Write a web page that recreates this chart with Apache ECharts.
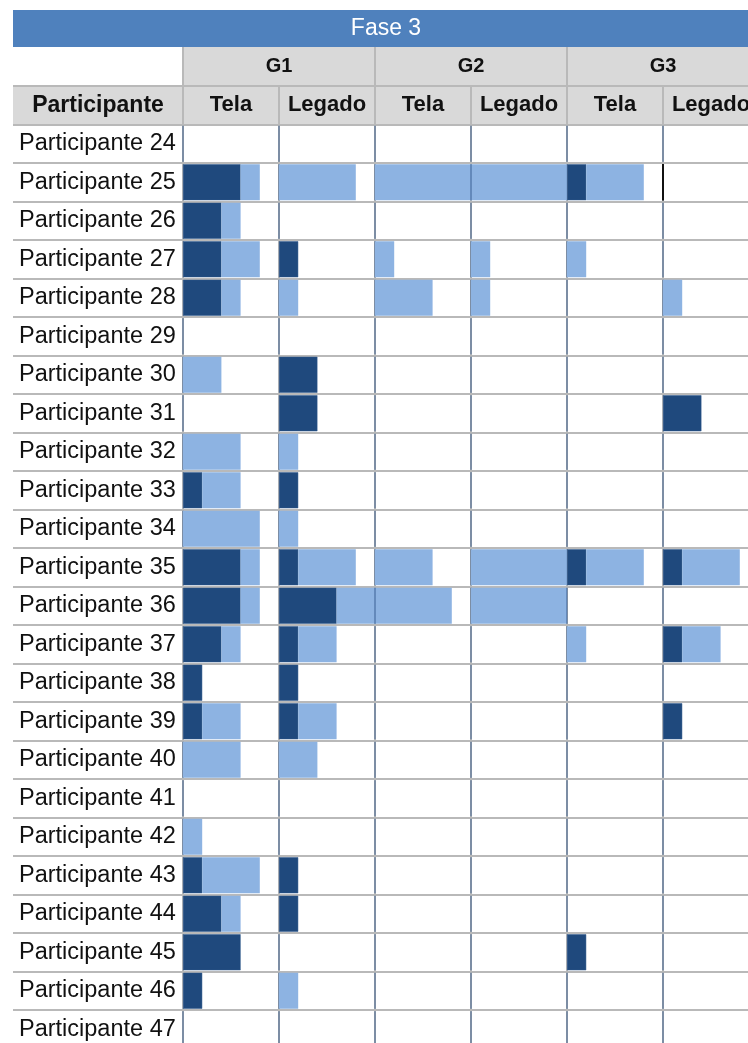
<!DOCTYPE html>
<html>
<head>
<meta charset="utf-8">
<script src="https://cdn.jsdelivr.net/npm/echarts@6/dist/echarts.min.js"></script>
<style>
  html, body { margin: 0; padding: 0; background: #fff; overflow: hidden; }
  /* a tabela passa um pouco da borda direita e de baixo, como no original */
  #chart { width: 762px; height: 1060px; }
</style>
</head>
<body>
<div id="chart"></div>
<script>
// linhas da tabela
const participants = [
  'Participante 24', 'Participante 25', 'Participante 26', 'Participante 27',
  'Participante 28', 'Participante 29', 'Participante 30', 'Participante 31',
  'Participante 32', 'Participante 33', 'Participante 34', 'Participante 35',
  'Participante 36', 'Participante 37', 'Participante 38', 'Participante 39',
  'Participante 40', 'Participante 41', 'Participante 42', 'Participante 43',
  'Participante 44', 'Participante 45', 'Participante 46', 'Participante 47'
];
const phaseTitle = 'Fase 3';
const groups = ['G1', 'G2', 'G3'];
const subCols = ['Tela', 'Legado'];
const rowHeader = 'Participante';

// valores por celula (unidades, 5 por celula)
const g1TelaDark    = [0,3,2,2,2,0,0,0,0,1,0,3,3,2,1,1,0,0,0,1,2,3,1,0];
const g1TelaLight   = [0,1,1,2,1,0,2,0,3,2,4,1,1,1,0,2,3,0,1,3,1,0,0,0];
const g1LegadoDark  = [0,0,0,1,0,0,2,2,0,1,0,1,3,1,1,1,0,0,0,1,1,0,0,0];
const g1LegadoLight = [0,4,0,0,1,0,0,0,1,0,1,3,6,2,0,2,2,0,0,0,0,0,1,0];
const g2TelaDark    = [0,0,0,0,0,0,0,0,0,0,0,0,0,0,0,0,0,0,0,0,0,0,0,0];
const g2TelaLight   = [0,10,0,1,3,0,0,0,0,0,0,3,0,0,0,0,0,0,0,0,0,0,0,0];
const g2LegadoDark  = [0,0,0,0,0,0,0,0,0,0,0,0,0,0,0,0,0,0,0,0,0,0,0,0];
const g2LegadoLight = [0,0,0,1,1,0,0,0,0,0,0,5,5,0,0,0,0,0,0,0,0,0,0,0];
const g3TelaDark    = [0,1,0,0,0,0,0,0,0,0,0,1,0,0,0,0,0,0,0,0,0,1,0,0];
const g3TelaLight   = [0,3,0,1,0,0,0,0,0,0,0,3,0,1,0,0,0,0,0,0,0,0,0,0];
const g3LegadoDark  = [0,0,0,0,0,0,0,2,0,0,0,1,0,1,0,1,0,0,0,0,0,0,0,0];
const g3LegadoLight = [0,0,0,0,1,0,0,0,0,0,0,3,0,2,0,0,0,0,0,0,0,0,0,0];
// marca preta (cursor) na linha do participante 25
const cursorMarks = [[25, 'Participante 25']];

const cells = [
  [g1TelaDark, g1TelaLight], [g1LegadoDark, g1LegadoLight],
  [g2TelaDark, g2TelaLight], [g2LegadoDark, g2LegadoLight],
  [g3TelaDark, g3TelaLight], [g3LegadoDark, g3LegadoLight]
];

const DARK = '#1f497d';
const LIGHT = '#8db3e2';
const LINE = '#b9b9b9';
const HEAD_BG = '#d9d9d9';
const FONT = '"Liberation Sans", Arial, sans-serif';

const tableLeft = 13;
const dataLeft = 183;
const colW = 96;
const unitsPerCell = 5;
const bandTop = 10, gTop = 47, subTop = 86, bodyTop = 124.5;
const rowH = 38.5;
const tableRight = dataLeft + colW * cells.length;

let chart = echarts.init(document.getElementById('chart'));

let series = [];
cells.forEach(function (cell, c) {
  let stack = 'cell' + c;
  series.push({
    type: 'bar', xAxisIndex: 0, yAxisIndex: 0, stack: stack,
    data: participants.map(function () { return c * unitsPerCell; }),
    itemStyle: { color: 'rgba(0,0,0,0)' },
    barWidth: 36, barGap: '-100%', silent: true
  });
  series.push({
    type: 'bar', xAxisIndex: 0, yAxisIndex: 0, stack: stack,
    data: cell[0], itemStyle: { color: DARK, borderColor: '#2c568a', borderWidth: 0.5 },
    barWidth: 36, barGap: '-100%'
  });
  series.push({
    type: 'bar', xAxisIndex: 0, yAxisIndex: 0, stack: stack,
    data: cell[1], itemStyle: { color: LIGHT },
    barWidth: 36, barGap: '-100%'
  });
});

series.push({
  type: 'custom', xAxisIndex: 0, yAxisIndex: 0,
  data: cursorMarks, z: 5,
  renderItem: function (params, api) {
    let p = api.coord([api.value(0), api.value(1)]);
    let h = api.size([0, 1])[1];
    return {
      type: 'line',
      shape: { x1: p[0], y1: p[1] - h / 2 + 1, x2: p[0], y2: p[1] + h / 2 - 1 },
      style: { stroke: '#111', lineWidth: 2 }
    };
  }
});

// cabecalho
let graphic = [
  { type: 'rect', shape: { x: tableLeft, y: bandTop, width: tableRight - tableLeft, height: gTop - bandTop },
    style: { fill: '#4f81bd' } },
  { type: 'text', x: (tableLeft + tableRight) / 2, y: (bandTop + gTop) / 2,
    style: { text: phaseTitle, fill: '#fff', font: '23px ' + FONT, align: 'center', verticalAlign: 'middle' } },
  { type: 'rect', shape: { x: dataLeft, y: gTop, width: tableRight - dataLeft, height: subTop - gTop },
    style: { fill: HEAD_BG } },
  { type: 'rect', shape: { x: tableLeft, y: subTop, width: tableRight - tableLeft, height: bodyTop - subTop },
    style: { fill: HEAD_BG } },
  { type: 'line', shape: { x1: tableLeft, y1: subTop, x2: tableRight, y2: subTop },
    style: { stroke: LINE, lineWidth: 2 } },
  { type: 'text', x: (tableLeft + dataLeft) / 2, y: (subTop + bodyTop) / 2,
    style: { text: rowHeader, fill: '#111', font: 'bold 23px ' + FONT, align: 'center', verticalAlign: 'middle' } }
];
groups.forEach(function (g, i) {
  let x0 = dataLeft + i * colW * 2;
  graphic.push({ type: 'line', shape: { x1: x0, y1: gTop, x2: x0, y2: subTop },
    style: { stroke: LINE, lineWidth: 2 } });
  graphic.push({ type: 'text', x: x0 + colW, y: (gTop + subTop) / 2,
    style: { text: g, fill: '#111', font: 'bold 20px ' + FONT, align: 'center', verticalAlign: 'middle' } });
  subCols.forEach(function (s, j) {
    let xs = x0 + j * colW;
    graphic.push({ type: 'line', shape: { x1: xs, y1: subTop, x2: xs, y2: bodyTop },
      style: { stroke: LINE, lineWidth: 2 } });
    graphic.push({ type: 'text', x: xs + colW / 2, y: (subTop + bodyTop) / 2,
      style: { text: s, fill: '#111', font: 'bold 22px ' + FONT, align: 'center', verticalAlign: 'middle' } });
  });
});

chart.setOption({
  animation: false,
  backgroundColor: '#fff',
  grid: [
    { left: dataLeft, top: bodyTop, width: colW * cells.length, height: rowH * participants.length },
    { left: tableLeft, top: bodyTop, width: dataLeft - tableLeft, height: rowH * participants.length }
  ],
  xAxis: [
    { type: 'value', gridIndex: 0, min: 0, max: unitsPerCell * cells.length, interval: unitsPerCell,
      axisLine: { show: false }, axisTick: { show: false }, axisLabel: { show: false },
      splitLine: { show: true, lineStyle: { color: LINE, width: 2 } } },
    { type: 'value', gridIndex: 1, min: 0, max: 1, show: false }
  ],
  yAxis: [
    { type: 'category', gridIndex: 0, data: participants, inverse: true,
      axisLine: { show: false }, axisTick: { show: false },
      axisLabel: { show: true, align: 'left', margin: dataLeft - 19, color: '#111',
        fontFamily: FONT, fontSize: 23.5 },
      splitLine: { show: true, interval: 0, lineStyle: { color: LINE, width: 2 } } },
    { type: 'category', gridIndex: 1, data: participants, inverse: true,
      axisLine: { show: false }, axisTick: { show: false }, axisLabel: { show: false },
      splitLine: { show: true, interval: 0, lineStyle: { color: LINE, width: 2 } } }
  ],
  series: series,
  graphic: graphic
});
</script>
</body>
</html>
